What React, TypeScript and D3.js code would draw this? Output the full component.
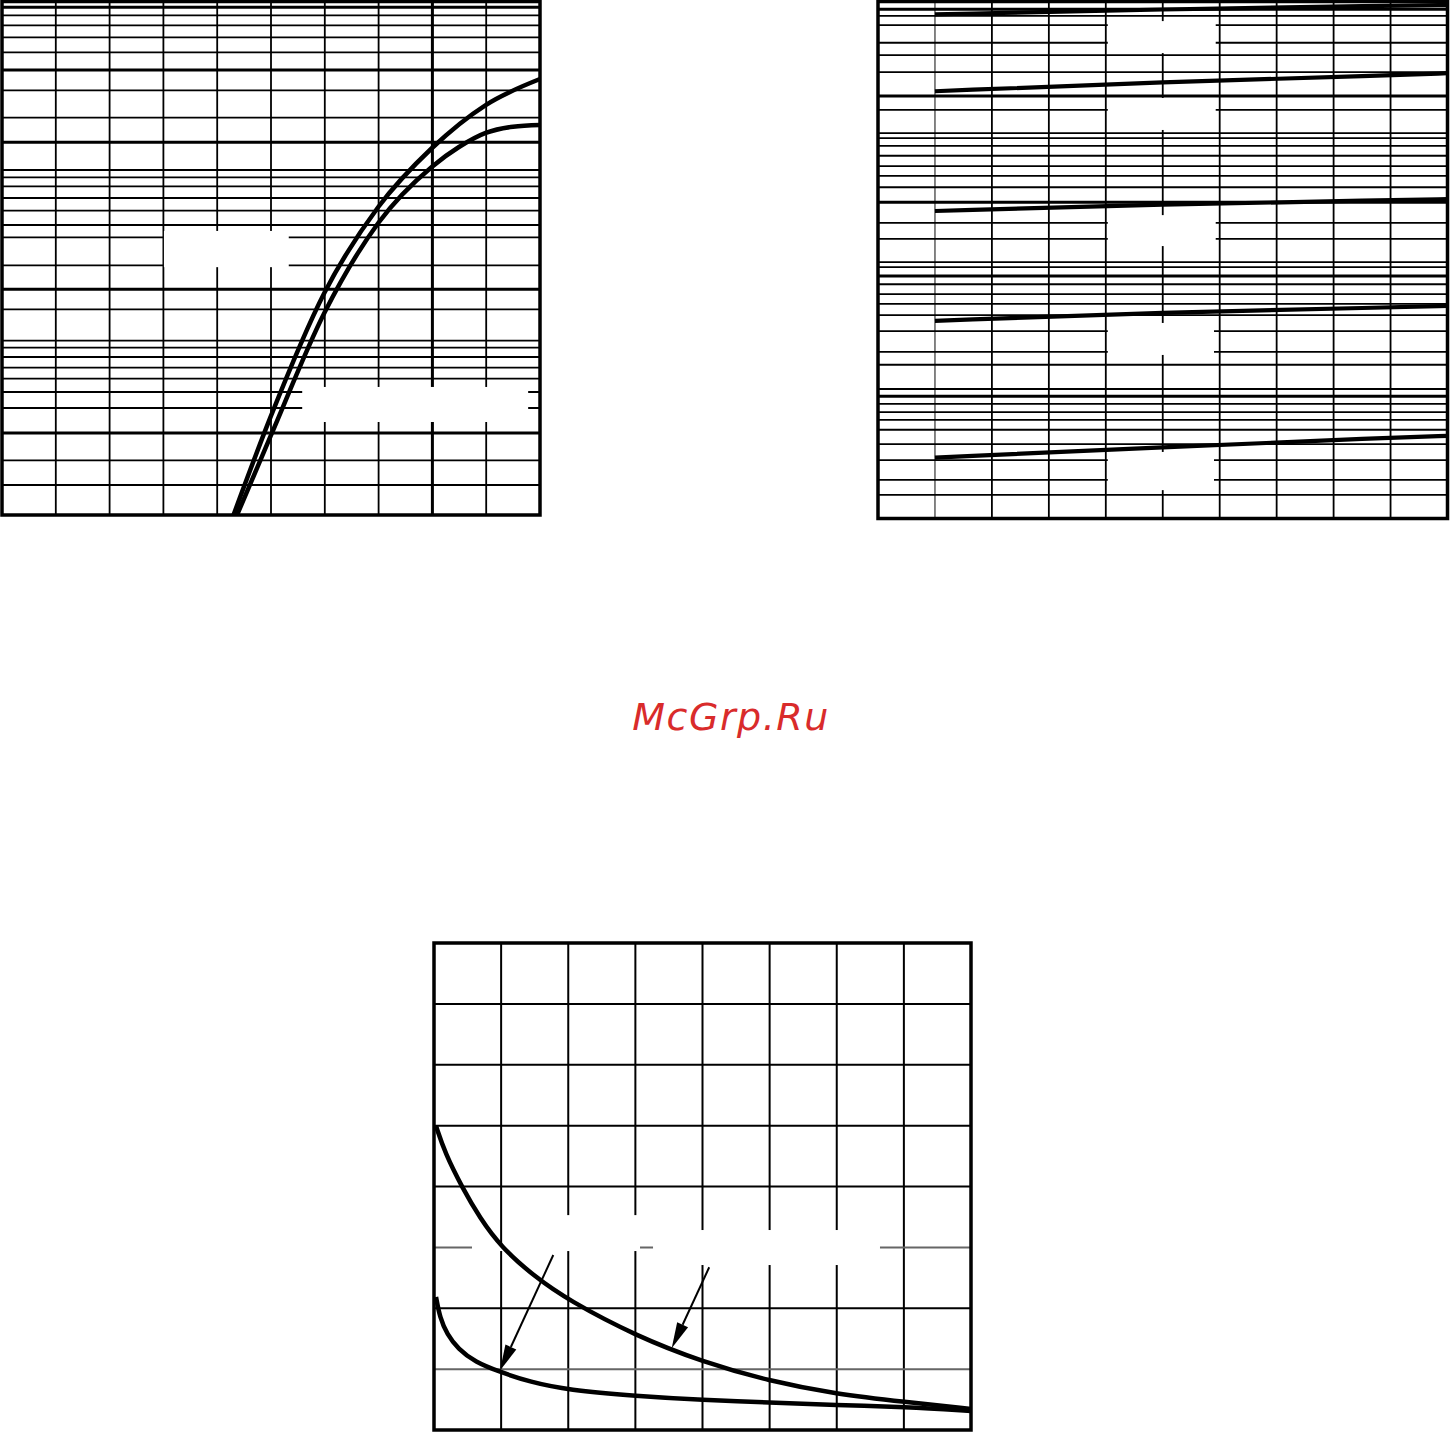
import * as d3 from "d3";

const W = 1450;
const H = 1433;

// ---------- chart 1 (top left): log y, linear x ----------
const c1XGrid = [1, 2, 3, 4, 5, 6, 7, 8, 9];
const c1XMajor = [8];
const c1YGrid = [
  0.0451, 0.0667, 0.1027, 0.1527, 0.1967, 0.2427, 0.289, 0.3423, 0.3966, 0.443,
  0.7286, 1, 1.463, 2.279, 2.768, 3.472, 4.246, 5.11, 5.893, 6.614, 10.26,
  15.14, 23.37, 32.22, 42.66, 54.1, 65.4, 76.6, 86.97,
];
const c1YMajor = [0.1027, 1, 10.26, 32.22, 86.97];
const c1AX = [4.303, 4.994, 5.991, 6.994, 7.993, 8.991, 10];
const c1AY = [0.028, 0.133, 0.9431, 3.681, 9.372, 18.51, 27.95];
const c1BX = [4.368, 4.994, 5.991, 6.994, 7.993, 8.494, 8.991, 9.498, 10];
const c1BY = [0.028, 0.098, 0.687, 2.858, 6.97, 9.52, 11.9, 13.13, 13.49];
// blanked label areas [x0, x1, y0, y1]
const c1Masks = [
  [3.01, 5.33, 2.52, 1.42],
  [5.58, 9.78, 0.213, 0.1223],
];

// ---------- chart 2 (top right): stacked panels ----------
const c2XGrid = [1, 2, 3, 4, 5, 6, 7, 8, 9];
const c2YGrid = [
  98.6, 97.3, 95.5, 92.1, 89.7, 86.4, 81.8, 79.1, 74.6, 73.6, 72.1, 70.2, 68.2,
  66.3, 64.1, 61.2, 57.2, 54.1, 49.6, 48.6, 46.9, 45.3, 43.4, 41.5, 39.3, 36.2,
  32.2, 29.7, 25.0, 23.6, 22.1, 20.5, 19.0, 17.1, 14.3, 11.2, 7.4, 4.5,
];
const c2YMajor = [98.6, 81.8, 61.2, 46.9, 23.6];
const c2X = [1, 5, 9, 10];
const c2S1 = [97.6, 98.6, 99.3, 99.4];
const c2S2 = [82.7, 84.5, 85.8, 86.2];
const c2S3 = [59.5, 60.8, 61.6, 61.8];
const c2S4 = [38.2, 39.9, 40.8, 41.1];
const c2S5 = [11.7, 13.7, 15.6, 15.9];
const c2Masks = [
  [4.035, 5.93, 96.3, 90.1],
  [4.035, 5.93, 81.4, 75.2],
  [4.035, 5.93, 58.7, 52.7],
  [4.035, 5.9, 37.8, 31.6],
  [4.035, 5.9, 12.8, 5.4],
];

// ---------- chart 3 (bottom): linear ----------
const c3XGrid = [1, 2, 3, 4, 5, 6, 7];
const c3YGrid = [1, 2, 3, 4, 5, 6, 7];
const c3YGray = [1, 3];
const c3UpX = [0.03, 0.164, 0.417, 0.685, 0.998, 1.505, 1.996, 3.009, 4.007, 4.991, 5.989, 7.017, 8.0];
const c3UpY = [4.994, 4.55, 3.99, 3.48, 3.006, 2.513, 2.136, 1.544, 1.117, 0.805, 0.591, 0.46, 0.345];
const c3LoX = [0.03, 0.089, 0.194, 0.358, 0.611, 0.983, 1.43, 1.996, 3.009, 4.007, 4.991, 5.989, 7.017, 8.0];
const c3LoY = [2.185, 1.84, 1.577, 1.331, 1.117, 0.953, 0.789, 0.657, 0.559, 0.493, 0.452, 0.411, 0.378, 0.312];
const c3Masks = [
  [0.566, 3.069, 3.055, 2.94],
  [1.058, 3.069, 3.53, 2.94],
  [3.263, 6.644, 3.285, 2.71],
];
// arrows [fromX, fromY, toX, toY]
const c3Arrows = [
  [1.777, 2.875, 0.983, 0.976],
  [4.1, 2.673, 3.541, 1.342],
];

export default function App() {
  // scales
  const x1 = d3.scaleLinear().domain([0, 10]).range([2, 540]);
  const y1 = d3.scaleLog().domain([0.02804, 95.37]).range([515, 1.5]);
  const x2 = d3.scaleLinear().domain([0, 10]).range([878, 1447.5]);
  const y2 = d3.scaleLinear().domain([0, 100]).range([518, 2]);
  const x3 = d3.scaleLinear().domain([0, 8]).range([434, 971]);
  const y3 = d3.scaleLinear().domain([0, 8]).range([1430, 943]);

  const line = (xs: number[], ys: number[], sx: any, sy: any, curve: any = d3.curveBasis) =>
    d3
      .line<number>()
      .x((_, i) => sx(xs[i]))
      .y((_, i) => sy(ys[i]))
      .curve(curve)(xs) || "";

  const mask = (m: number[], sx: any, sy: any, k: string) => (
    <rect
      key={k}
      x={sx(m[0])}
      y={sy(m[2])}
      width={sx(m[1]) - sx(m[0])}
      height={sy(m[3]) - sy(m[2])}
      fill="#fff"
    />
  );

  const arrow = (a: number[], k: string) => {
    const fx = x3(a[0]), fy = y3(a[1]), tx = x3(a[2]), ty = y3(a[3]);
    const ang = Math.atan2(ty - fy, tx - fx);
    const L = 26, Wd = 6;
    const bx = tx - L * Math.cos(ang), by = ty - L * Math.sin(ang);
    const px = -Math.sin(ang) * Wd, py = Math.cos(ang) * Wd;
    return (
      <g key={k}>
        <line x1={fx} y1={fy} x2={bx} y2={by} stroke="#000" strokeWidth={2} />
        <path d={`M${tx},${ty}L${bx + px},${by + py}L${bx - px},${by - py}Z`} fill="#000" />
      </g>
    );
  };

  const minor = 1.8;
  const major = 3;

  return (
    <svg
      width={W}
      height={H}
      style={{ position: "absolute", left: 0, top: 0, background: "#fff" }}
    >
      <rect x={0} y={0} width={W} height={H} fill="#fff" />

      {/* chart 1 */}
      <g>
        {c1XGrid.map((v) => (
          <line key={"c1x" + v} x1={x1(v)} x2={x1(v)} y1={y1.range()[0]} y2={y1.range()[1]}
            stroke="#000" strokeWidth={c1XMajor.includes(v) ? major : minor} />
        ))}
        {c1YGrid.map((v) => (
          <line key={"c1y" + v} x1={2} x2={540} y1={y1(v)} y2={y1(v)}
            stroke="#000" strokeWidth={c1YMajor.includes(v) ? major : minor} />
        ))}
        {c1Masks.map((m, i) => mask(m, x1, y1, "c1m" + i))}
        <rect x={2} y={1.5} width={538} height={513.5} fill="none" stroke="#000" strokeWidth={3.5} />
        <path d={line(c1AX, c1AY, x1, y1, d3.curveMonotoneX)} fill="none" stroke="#000" strokeWidth={4.5} />
        <path d={line(c1BX, c1BY, x1, y1, d3.curveMonotoneX)} fill="none" stroke="#000" strokeWidth={4.5} />
      </g>

      {/* chart 2 */}
      <g>
        {c2XGrid.map((v) => (
          <line key={"c2x" + v} x1={x2(v)} x2={x2(v)} y1={y2(0)} y2={y2(100)}
            stroke={v === 1 ? "#777" : "#000"} strokeWidth={minor} />
        ))}
        {c2YGrid.map((v) => (
          <line key={"c2y" + v} x1={878} x2={1447.5} y1={y2(v)} y2={y2(v)}
            stroke="#000" strokeWidth={c2YMajor.includes(v) ? major : minor} />
        ))}
        {c2Masks.map((m, i) => mask(m, x2, y2, "c2m" + i))}
        <rect x={878} y={1.5} width={569.5} height={517} fill="none" stroke="#000" strokeWidth={3.5} />
        {[c2S1, c2S2, c2S3, c2S4, c2S5].map((s, i) => (
          <path key={"c2s" + i} d={line(c2X, s, x2, y2)} fill="none" stroke="#000" strokeWidth={4.2} />
        ))}
      </g>

      {/* watermark */}
      <text x={731} y={730} textAnchor="middle" fontFamily="DejaVu Sans" fontStyle="italic"
        fontSize={38} letterSpacing={1.5} fill="#d92b2b">McGrp.Ru</text>

      {/* chart 3 */}
      <g>
        {c3XGrid.map((v) => (
          <line key={"c3x" + v} x1={x3(v)} x2={x3(v)} y1={y3(0)} y2={y3(8)}
            stroke="#000" strokeWidth={2} />
        ))}
        {c3YGrid.map((v) => (
          <line key={"c3y" + v} x1={434} x2={971} y1={y3(v)} y2={y3(v)}
            stroke={c3YGray.includes(v) ? "#666" : "#000"} strokeWidth={2} />
        ))}
        {c3Masks.map((m, i) => mask(m, x3, y3, "c3m" + i))}
        <rect x={434} y={943} width={537} height={487} fill="none" stroke="#000" strokeWidth={3.5} />
        <path d={line(c3UpX, c3UpY, x3, y3)} fill="none" stroke="#000" strokeWidth={4.5} />
        <path d={line(c3LoX, c3LoY, x3, y3)} fill="none" stroke="#000" strokeWidth={4.5} />
        {c3Arrows.map((a, i) => arrow(a, "c3a" + i))}
      </g>
    </svg>
  );
}
